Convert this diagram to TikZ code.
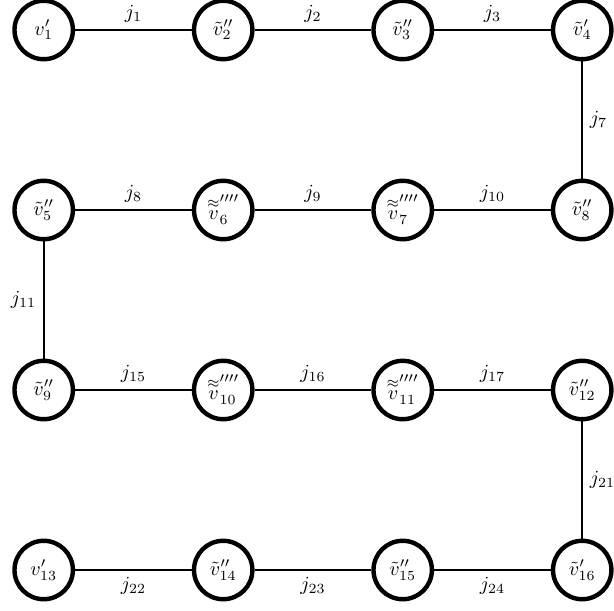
\documentclass[tikz,border=0pt]{standalone}
\usepackage{amsmath}
\usetikzlibrary{positioning}
\newcommand{\vvv}[1]{\overset{\approx}{v}^{\prime\prime\prime\prime}_{#1}}

\begin{document}
\begin{tikzpicture}[on grid,
      vtx/.style={circle, draw, line width=2.2pt, minimum size=29.2pt, inner sep=0pt},
      lnk/.style={line width=1pt}]
    \useasboundingbox (-21.85pt,15pt) rectangle (285.15pt,-290pt);
    % row 1
    \node[vtx] (v1) at (0,0) {$v'_{1}$};
    \node[vtx, right=89.75pt of v1] (v2) {$\tilde{v}''_{2}$};
    \node[vtx, right=89.75pt of v2] (v3) {$\tilde{v}''_{3}$};
    \node[vtx, right=89.75pt of v3] (v4) {$\tilde{v}'_{4}$};
    % row 2
    \node[vtx, below=90pt of v1] (v5) {$\tilde{v}''_{5}$};
    \node[vtx, right=89.75pt of v5] (v6) {$\vvv{6}$};
    \node[vtx, right=89.75pt of v6] (v7) {$\vvv{7}$};
    \node[vtx, right=89.75pt of v7] (v8) {$\tilde{v}''_{8}$};
    % row 3
    \node[vtx, below=90pt of v5] (v9) {$\tilde{v}''_{9}$};
    \node[vtx, right=89.75pt of v9] (v10) {$\vvv{10}$};
    \node[vtx, right=89.75pt of v10] (v11) {$\vvv{11}$};
    \node[vtx, right=89.75pt of v11] (v12) {$\tilde{v}''_{12}$};
    % row 4
    \node[vtx, below=90pt of v9] (v13) {$v'_{13}$};
    \node[vtx, right=89.75pt of v13] (v14) {$\tilde{v}''_{14}$};
    \node[vtx, right=89.75pt of v14] (v15) {$\tilde{v}''_{15}$};
    \node[vtx, right=89.75pt of v15] (v16) {$\tilde{v}'_{16}$};

    \draw[lnk] (v1)--(v2) node[midway,above]{$j_{1}$};
    \draw[lnk] (v2)--(v3) node[midway,above]{$j_{2}$};
    \draw[lnk] (v3)--(v4) node[midway,above]{$j_{3}$};
    \draw[lnk] (v4)--(v8) node[midway,right]{$j_{7}$};
    \draw[lnk] (v5)--(v6) node[midway,above]{$j_{8}$};
    \draw[lnk] (v6)--(v7) node[midway,above]{$j_{9}$};
    \draw[lnk] (v7)--(v8) node[midway,above]{$j_{10}$};
    \draw[lnk] (v5)--(v9) node[midway,left]{$j_{11}$};
    \draw[lnk] (v9)--(v10) node[midway,above]{$j_{15}$};
    \draw[lnk] (v10)--(v11) node[midway,above]{$j_{16}$};
    \draw[lnk] (v11)--(v12) node[midway,above]{$j_{17}$};
    \draw[lnk] (v12)--(v16) node[midway,right]{$j_{21}$};
    \draw[lnk] (v13)--(v14) node[midway,below]{$j_{22}$};
    \draw[lnk] (v14)--(v15) node[midway,below]{$j_{23}$};
    \draw[lnk] (v15)--(v16) node[midway,below]{$j_{24}$};
  \end{tikzpicture}
\end{document}
